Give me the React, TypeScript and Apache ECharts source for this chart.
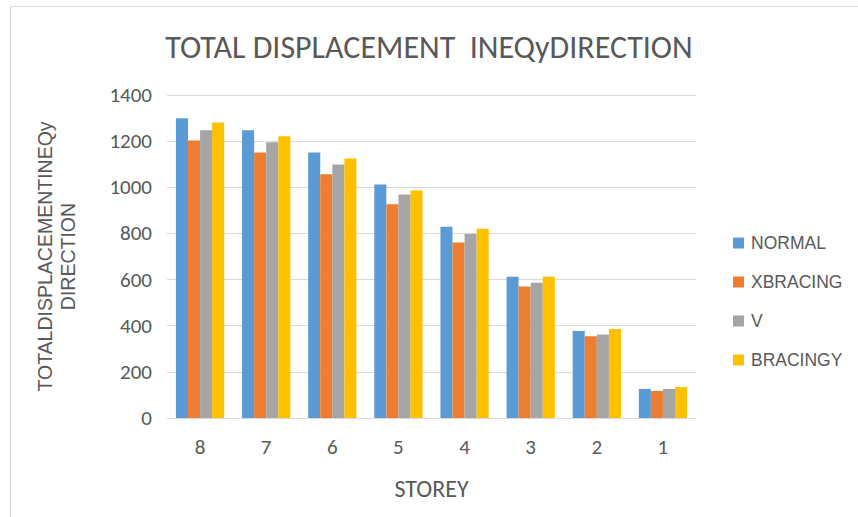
import React, { useEffect, useRef } from "react";
import * as echarts from "echarts";

const categories = ["8", "7", "6", "5", "4", "3", "2", "1"];
const normal = [1299, 1247, 1151, 1012, 829, 612, 377, 126];
const xbracing = [1203, 1151, 1056, 926, 761, 570, 354, 117];
const vBracing = [1247, 1195, 1099, 969, 797, 586, 362, 126];
const bracingY = [1281, 1221, 1125, 986, 820, 612, 386, 134];
const seriesNames = ["NORMAL", "XBRACING", "V", "BRACINGY"];
const colors = ["#5B9BD5", "#ED7D31", "#A5A5A5", "#FFC000"];

const FONT = "Carlito, Lato, 'Open Sans', sans-serif";
const ARIAL = "'Liberation Sans', Arial, sans-serif";
const TXT = "#595959";

export default function App() {
  const ref = useRef<HTMLDivElement>(null);
  useEffect(() => {
    if (!ref.current) return;
    const chart = echarts.init(ref.current, null, { renderer: "svg" });
    const data = [normal, xbracing, vBracing, bracingY];
    chart.setOption({
      animation: false,
      backgroundColor: "#ffffff",
      title: {
        text: "TOTAL DISPLACEMENT  INEQyDIRECTION",
        left: 429,
        textAlign: "center",
        top: 31,
        padding: 0,
        textStyle: { fontFamily: FONT, fontSize: 32, fontWeight: "normal", color: TXT },
      },
      graphic: [
        {
          type: "rect",
          shape: { x: 10.5, y: 6.5, width: 900, height: 600 },
          style: { fill: "none", stroke: "#d9d9d9", lineWidth: 1 },
          silent: true,
        },
      ],
      legend: {
        orient: "vertical",
        left: 733,
        top: 234,
        padding: 0,
        itemWidth: 11,
        itemHeight: 11,
        itemGap: 21,
        icon: "rect",
        textStyle: { fontFamily: ARIAL, fontSize: 17.5, color: TXT, padding: [0, 0, 0, 2] },
        data: seriesNames,
      },
      grid: { left: 167, right: 162, top: 95, bottom: 99, containLabel: false },
      xAxis: {
        type: "category",
        data: categories,
        name: "STOREY",
        nameLocation: "middle",
        nameGap: 58,
        nameTextStyle: { fontFamily: FONT, fontSize: 24, color: TXT },
        axisLine: { lineStyle: { color: "#d9d9d9" } },
        axisTick: { show: false },
        axisLabel: { fontFamily: FONT, fontSize: 21, color: TXT, margin: 18 },
      },
      yAxis: {
        type: "value",
        min: 0,
        max: 1400,
        interval: 200,
        name: "TOTALDISPLACEMENTINEQy\nDIRECTION",
        nameLocation: "middle",
        nameGap: 88,
        nameTextStyle: { fontFamily: ARIAL, fontSize: 19.5, color: TXT, lineHeight: 23 },
        axisLine: { show: false },
        axisTick: { show: false },
        splitLine: { lineStyle: { color: "#d9d9d9" } },
        axisLabel: {
          fontFamily: FONT,
          fontSize: 21,
          color: TXT,
          margin: 15,
          padding: [5, 0, 0, 0],
          formatter: (v: number) => String(v),
        },
      },
      series: seriesNames.map((n, i) => ({
        name: n,
        type: "bar",
        data: data[i],
        barGap: "0%",
        barCategoryGap: "27%",
        itemStyle: { color: colors[i] },
      })),
    });
    return () => chart.dispose();
  }, []);
  return <div ref={ref} style={{ width: 858, height: 517, position: "absolute", left: 0, top: 0 }} />;
}
